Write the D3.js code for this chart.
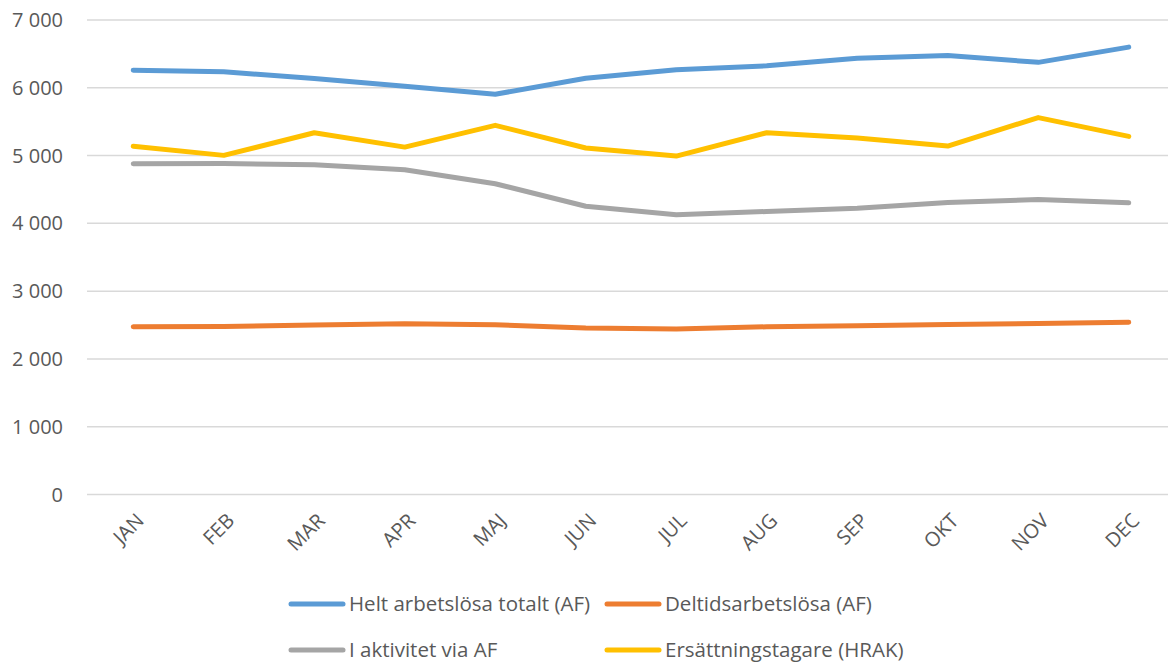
<!doctype html>
<html>
<head>
<meta charset="utf-8">
<script src="https://cdnjs.cloudflare.com/ajax/libs/d3/7.8.5/d3.min.js"></script>
<style>
  body { margin: 0; background: #fff; }
  svg { display: block; font-family: "Open Sans", sans-serif; }
</style>
</head>
<body>
<svg id="chart" width="1168" height="664"></svg>
<script>
// months on the x axis
const months = ["JAN", "FEB", "MAR", "APR", "MAJ", "JUN", "JUL", "AUG", "SEP", "OKT", "NOV", "DEC"];

// series
const heltArbetslosa = [6260, 6235, 6136, 6023, 5905, 6140, 6265, 6325, 6435, 6478, 6375, 6600];
const deltidsArbetslosa = [2474, 2479, 2499, 2520, 2505, 2455, 2442, 2474, 2490, 2507, 2524, 2540];
const iAktivitet = [4879, 4882, 4865, 4792, 4584, 4253, 4126, 4175, 4224, 4308, 4352, 4303];
const ersattningstagare = [5136, 5003, 5337, 5125, 5446, 5111, 4993, 5337, 5259, 5140, 5560, 5283];

const yTicks = [0, 1000, 2000, 3000, 4000, 5000, 6000, 7000];

const series = [
  { name: "Helt arbetslösa totalt (AF)", values: heltArbetslosa, color: "#5B9BD5" },
  { name: "Deltidsarbetslösa (AF)", values: deltidsArbetslosa, color: "#ED7D31" },
  { name: "I aktivitet via AF", values: iAktivitet, color: "#A5A5A5" },
  { name: "Ersättningstagare (HRAK)", values: ersattningstagare, color: "#FFC000" }
];

const svg = d3.select("#chart");

const x = d3.scalePoint()
  .domain(months)
  .range([88, 1174])
  .padding(0.5);

const y = d3.scaleLinear()
  .domain([0, 7000])
  .range([494.5, 20]);

const fmt = v => d3.format(",")(v).replace(/,/g, " ");

// gridlines
svg.append("g")
  .selectAll("line")
  .data(yTicks)
  .join("line")
    .attr("x1", 87)
    .attr("x2", 1168)
    .attr("y1", d => y(d))
    .attr("y2", d => y(d))
    .attr("stroke", "#D9D9D9")
    .attr("stroke-width", 1.5);

// y tick labels
svg.append("g")
  .selectAll("text")
  .data(yTicks)
  .join("text")
    .attr("x", 63)
    .attr("y", d => y(d))
    .attr("dy", "0.35em")
    .attr("text-anchor", "end")
    .attr("font-size", 20)
    .attr("fill", "#595959")
    .text(fmt);

// x tick labels, rotated
svg.append("g")
  .selectAll("text")
  .data(months)
  .join("text")
    .attr("transform", d => `translate(${x(d) + 7},${517}) rotate(-45)`)
    .attr("text-anchor", "end")
    .attr("dy", "0.35em")
    .attr("font-size", 20)
    .attr("fill", "#595959")
    .text(d => d);

const line = d3.line()
  .x((d, i) => x(months[i]))
  .y(d => y(d));

svg.append("g")
  .selectAll("path")
  .data(series)
  .join("path")
    .attr("d", d => line(d.values))
    .attr("fill", "none")
    .attr("stroke", d => d.color)
    .attr("stroke-width", 5)
    .attr("stroke-linejoin", "round")
    .attr("stroke-linecap", "round");

// legend, two rows of two
const legendPos = [[289, 604], [605, 604], [289, 650], [605, 650]];
const legend = svg.append("g")
  .selectAll("g")
  .data(series)
  .join("g")
    .attr("transform", (d, i) => `translate(${legendPos[i][0]},${legendPos[i][1]})`);

legend.append("line")
  .attr("x1", 2).attr("x2", 54)
  .attr("stroke", d => d.color)
  .attr("stroke-width", 5)
  .attr("stroke-linecap", "round");

legend.append("text")
  .attr("x", 60)
  .attr("dy", "0.35em")
  .attr("font-size", 20.5)
  .attr("fill", "#595959")
  .text(d => d.name);
</script>
</body>
</html>
